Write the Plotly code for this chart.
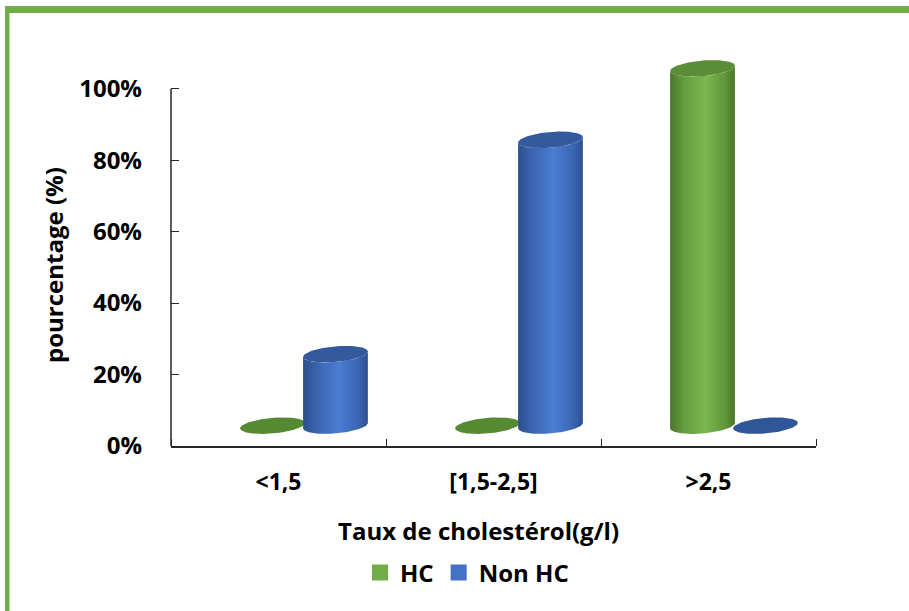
import numpy as np
import plotly.graph_objects as go

# ---- data -------------------------------------------------------------
categories = ["<1,5", "[1,5-2,5]", ">2,5"]
hc_values = [0, 0, 100]          # HC (%)
non_hc_values = [20, 80, 0]      # Non HC (%)
y_tick_values = [0, 20, 40, 60, 80, 100]
y_tick_labels = ["0%", "20%", "40%", "60%", "80%", "100%"]

# ---- layout geometry --------------------------------------------------
W, H = 909, 611
M_L, M_R, M_T, M_B = 171, 93, 53, 165
Y_MAX = 110
plot_w = W - M_L - M_R
plot_h = H - M_T - M_B
px_per_x = plot_w / len(categories)
px_per_y = plot_h / Y_MAX

FONT = "Open Sans"
FS = 24
TXT = "#000000"
AXIS = "#262626"

# cylinder look (pixel sizes, converted to data units through the scales)
FLOOR = 5.7          # depth lift of the cylinder bases, in % units
SEMI_A = 32.5        # horizontal semi-axis, px
SEMI_B = 7.8         # vertical semi-axis, px
TILT = np.radians(5)
OFFSETS = {"HC": -0.028, "Non HC": 0.265}

STYLE = {
    "HC": dict(
        legend="#70ad47",
        body=[[0, "#4b772c"], [0.2, "#639c3d"], [0.55, "#7cb74f"],
              [0.85, "#5f963a"], [1, "#4a752b"]],
        top="#5b8c37",
        flat="#568a32",
    ),
    "Non HC": dict(
        legend="#4472c4",
        body=[[0, "#2c4f8e"], [0.2, "#3a63ad"], [0.55, "#4a7dd3"],
              [0.85, "#3b66b3"], [1, "#2d5190"]],
        top="#34599c",
        flat="#30569a",
    ),
}


def ellipse(cx, cy, t):
    ex = SEMI_A * np.cos(t) * np.cos(TILT) - SEMI_B * np.sin(t) * np.sin(TILT)
    ey = SEMI_A * np.cos(t) * np.sin(TILT) + SEMI_B * np.sin(t) * np.cos(TILT)
    return cx + ex / px_per_x, cy + ey / px_per_y


t_right = np.arctan(-(SEMI_B / SEMI_A) * np.tan(TILT))
lower_arc = np.linspace(t_right + np.pi, t_right + 2 * np.pi, 80)
full = np.linspace(0, 2 * np.pi, 120)

fig = go.Figure()

series = [("HC", hc_values), ("Non HC", non_hc_values)]

# zero values: a flat disc lying on the floor
for name, vals in series:
    for i, v in enumerate(vals):
        if v != 0:
            continue
        cx = i + OFFSETS[name]
        ex, ey = ellipse(cx, FLOOR, full)
        fig.add_trace(go.Scatter(
            x=ex, y=ey, mode="lines", fill="toself",
            fillcolor=STYLE[name]["flat"], line=dict(width=0),
            showlegend=False, hoverinfo="skip"))

# cylinders
for name, vals in series:
    for i, v in enumerate(vals):
        if v == 0:
            continue
        cx = i + OFFSETS[name]
        bx, by = ellipse(cx, FLOOR, lower_arc)
        tx, ty = ellipse(cx, FLOOR + v, lower_arc[::-1])
        fig.add_trace(go.Scatter(
            x=np.concatenate([bx, tx, bx[:1]]),
            y=np.concatenate([by, ty, by[:1]]),
            mode="lines", fill="toself", line=dict(width=0),
            fillgradient=dict(type="horizontal",
                              colorscale=STYLE[name]["body"]),
            showlegend=False, hoverinfo="skip"))
        ex, ey = ellipse(cx, FLOOR + v, full)
        fig.add_trace(go.Scatter(
            x=ex, y=ey, mode="lines", fill="toself",
            fillcolor=STYLE[name]["top"], line=dict(width=0),
            showlegend=False, hoverinfo="skip"))

# legend entries
for name, _ in series:
    fig.add_trace(go.Scatter(
        x=[None], y=[None], mode="markers", name=name,
        marker=dict(symbol="square", size=16, color=STYLE[name]["legend"])))


def px_to_paper_x(px):
    return (px - M_L) / plot_w


def px_to_paper_y(py):
    return (M_T + plot_h - py) / plot_h


shapes = [
    # y axis line from 0% to 100%
    dict(type="line", xref="paper", yref="y", x0=0, x1=0, y0=0, y1=100,
         line=dict(color=AXIS, width=1.5)),
    # green frame: top and left edges
    dict(type="rect", xref="paper", yref="paper",
         x0=px_to_paper_x(5), x1=px_to_paper_x(W + 2),
         y0=px_to_paper_y(13), y1=px_to_paper_y(6),
         line=dict(width=0), fillcolor="#70ad47", layer="above"),
    dict(type="rect", xref="paper", yref="paper",
         x0=px_to_paper_x(5), x1=px_to_paper_x(9.5),
         y0=px_to_paper_y(H + 2), y1=px_to_paper_y(6),
         line=dict(width=0), fillcolor="#70ad47", layer="above"),
]

annotations = [
    dict(text="pourcentage (%)", xref="paper", yref="paper",
         x=px_to_paper_x(53), y=px_to_paper_y(265), textangle=-90,
         showarrow=False, xanchor="center", yanchor="middle",
         font=dict(family=FONT, size=FS, color=TXT, weight="bold")),
    dict(text="Taux de cholestérol(g/l)", xref="paper", yref="paper",
         x=px_to_paper_x(478), y=px_to_paper_y(530),
         showarrow=False, xanchor="center", yanchor="middle",
         font=dict(family=FONT, size=FS, color=TXT, weight="bold")),
]

fig.update_layout(
    width=W, height=H,
    margin=dict(l=M_L, r=M_R, t=M_T, b=M_B, autoexpand=False),
    paper_bgcolor="white", plot_bgcolor="white",
    shapes=shapes, annotations=annotations,
    showlegend=True,
    legend=dict(orientation="h", x=px_to_paper_x(467), xanchor="center",
                y=px_to_paper_y(573), yanchor="middle",
                font=dict(family=FONT, size=FS, color=TXT, weight="bold"),
                itemwidth=30, tracegroupgap=0, bgcolor="rgba(0,0,0,0)"),
    xaxis=dict(
        range=[-0.5, len(categories) - 0.5],
        tickmode="array", tickvals=list(range(len(categories))),
        ticktext=categories, ticks="",
        tickfont=dict(family=FONT, size=FS - 1, color=TXT, weight="bold"),
        ticklabelstandoff=15,
        showline=True, linecolor=AXIS, linewidth=1.5,
        showgrid=False, zeroline=False, fixedrange=True,
        minor=dict(tickmode="array",
                   tickvals=[k - 0.5 for k in range(len(categories) + 1)],
                   ticks="inside", ticklen=7, tickcolor=AXIS, tickwidth=1.2,
                   showgrid=False),
    ),
    yaxis=dict(
        range=[0, Y_MAX],
        tickmode="array", tickvals=y_tick_values, ticktext=y_tick_labels,
        ticks="inside", ticklen=8, tickcolor=AXIS, tickwidth=1.2,
        tickfont=dict(family=FONT, size=FS, color=TXT, weight="bold"),
        ticklabelstandoff=28,
        showline=False, showgrid=False, zeroline=False, fixedrange=True,
    ),
)

fig.write_html("out.html")
